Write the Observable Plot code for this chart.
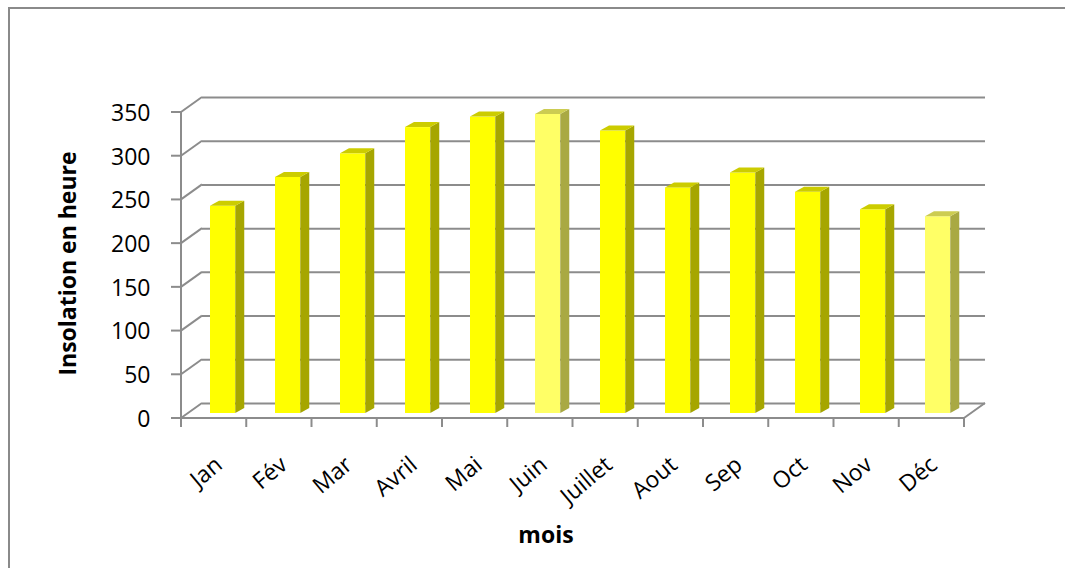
<!DOCTYPE html>
<html>
<head>
<meta charset="utf-8">
<script src="https://cdn.jsdelivr.net/npm/d3@7"></script>
<script src="https://cdn.jsdelivr.net/npm/@observablehq/plot@0.6"></script>
<style>
  html, body { margin: 0; padding: 0; background: #fff; overflow: hidden; }
  #frame { position: absolute; left: 8px; top: 7px; width: 2000px; height: 2000px;
           border-left: 2px solid #8a8a8a; border-top: 2px solid #8a8a8a; }
  #chart { position: absolute; left: 0; top: 0; }
</style>
</head>
<body>
<div id="frame"></div>
<div id="chart"></div>
<script>
// ---- data ----
const months = ["Jan", "Fév", "Mar", "Avril", "Mai", "Juin", "Juillet", "Aout", "Sep", "Oct", "Nov", "Déc"];
const hours = [237, 270, 297, 327, 339, 342, 323, 258, 275, 253, 233, 225];
const highlighted = ["Juin", "Déc"];
const yTicks = [0, 50, 100, 150, 200, 250, 300, 350];
const yTitle = "Insolation en heure";
const xTitle = "mois";

const data = months.map((m, i) => ({month: m, value: hours[i], hl: highlighted.includes(m)}));

// ---- 3D geometry (pixels) ----
const FRONT = {dx: -7, dy: 5};   // front (axis) plane relative to bar plane
const BACK = {dx: 14, dy: -10};  // back wall relative to bar plane
const DEPTH = {dx: 9, dy: -5};   // bar depth
const INSET = 20;
const GRID = "#8c8c8c";

function step(dims) {
  return (dims.width - dims.marginLeft - dims.marginRight) / months.length;
}

// wall / floor edges, ticks
function walls(index, scales, values, dims) {
  const y = scales.y;
  const g = d3.create("svg:g").attr("stroke", GRID).attr("stroke-width", 2).attr("fill", "none");
  const L = dims.marginLeft, R = dims.width - dims.marginRight;
  const st = step(dims);
  for (const v of yTicks) {
    g.append("line")
      .attr("x1", L + FRONT.dx).attr("y1", y(v) + FRONT.dy)
      .attr("x2", L + BACK.dx).attr("y2", y(v) + BACK.dy);
    g.append("line")
      .attr("x1", L + FRONT.dx - 10).attr("y1", y(v) + FRONT.dy)
      .attr("x2", L + FRONT.dx).attr("y2", y(v) + FRONT.dy);
  }
  g.append("line")
    .attr("x1", L + FRONT.dx).attr("y1", y(0) + FRONT.dy)
    .attr("x2", L + FRONT.dx).attr("y2", y(yTicks[yTicks.length - 1]) + FRONT.dy);
  g.append("line")
    .attr("x1", L + FRONT.dx).attr("y1", y(0) + FRONT.dy)
    .attr("x2", R + FRONT.dx).attr("y2", y(0) + FRONT.dy);
  g.append("line")
    .attr("x1", R + FRONT.dx).attr("y1", y(0) + FRONT.dy)
    .attr("x2", R + BACK.dx).attr("y2", y(0) + BACK.dy);
  for (let i = 0; i <= months.length; i++) {
    const xx = L + FRONT.dx + i * st;
    g.append("line")
      .attr("x1", xx).attr("y1", y(0) + FRONT.dy)
      .attr("x2", xx).attr("y2", y(0) + FRONT.dy + 9);
  }
  return g.node();
}

// bar side and top faces
function barSides(index, scales, values, dims) {
  const x = scales.x, y = scales.y;
  const st = step(dims);
  const g = d3.create("svg:g");
  for (const d of data) {
    const x1 = x(d.month) + INSET, x2 = x(d.month) + st - INSET;
    const y0 = y(0), yt = y(d.value);
    g.append("path")
      .attr("d", `M${x2},${y0}L${x2},${yt}L${x2 + DEPTH.dx},${yt + DEPTH.dy}L${x2 + DEPTH.dx},${y0 + DEPTH.dy}Z`)
      .attr("fill", d.hl ? "#a9a943" : "#a6a600");
    g.append("path")
      .attr("d", `M${x1},${yt}L${x2},${yt}L${x2 + DEPTH.dx},${yt + DEPTH.dy}L${x1 + DEPTH.dx},${yt + DEPTH.dy}Z`)
      .attr("fill", d.hl ? "#cccc52" : "#cccc00");
  }
  return g.node();
}

const chart = Plot.plot({
  width: 1065,
  height: 568,
  marginLeft: 188,
  marginRight: 94,
  marginTop: 107,
  marginBottom: 155,
  style: {background: "none", fontFamily: "'Open Sans', sans-serif", fontSize: "23px", color: "#000"},
  x: {type: "band", domain: months, padding: 0, axis: null},
  y: {domain: [0, 350], axis: null},
  marks: [
    Plot.gridY(yTicks, {dx: BACK.dx, dy: BACK.dy, stroke: GRID, strokeOpacity: 1, strokeWidth: 2}),
    walls,
    Plot.barY(data, {x: "month", y: "value", insetLeft: INSET, insetRight: INSET,
      fill: d => d.hl ? "#ffff66" : "#ffff00"}),
    barSides,
    Plot.axisY(yTicks, {dx: FRONT.dx, dy: FRONT.dy + 1, tickSize: 0, tickPadding: 31, label: null,
      fill: "#000", fontSize: 23}),
    Plot.text(months, {x: d => d, frameAnchor: "bottom", dx: -4, dy: 48, rotate: -40,
      textAnchor: "end", lineAnchor: "middle", fill: "#000", fontSize: 23}),
    Plot.text([yTitle], {frameAnchor: "left", dx: -120, dy: 3, rotate: -90,
      textAnchor: "middle", lineAnchor: "middle", fontWeight: "bold", fontSize: 23, fill: "#000"}),
    Plot.text([xTitle], {frameAnchor: "bottom", dx: -34, dy: 122,
      textAnchor: "middle", lineAnchor: "middle", fontWeight: "bold", fontSize: 23, fill: "#000"})
  ]
});
document.getElementById("chart").appendChild(chart);
</script>
</body>
</html>
